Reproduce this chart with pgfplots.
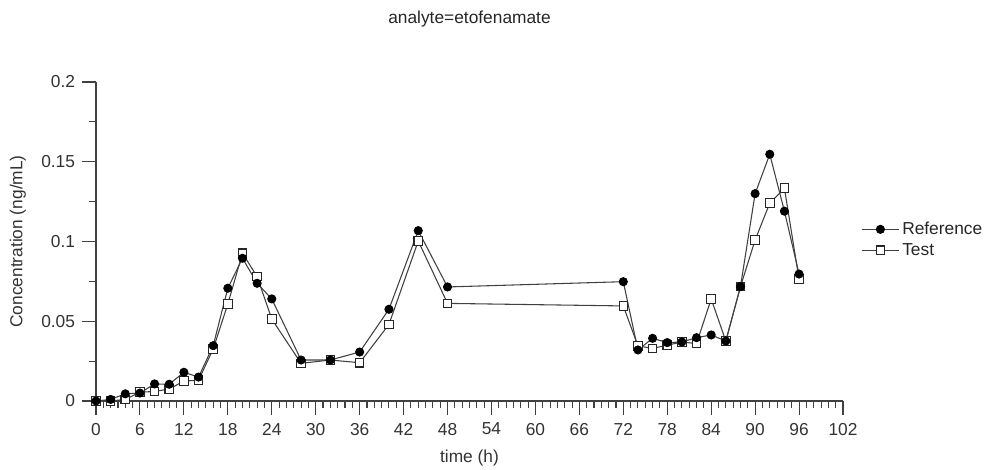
\documentclass[border=0pt]{standalone}
\usepackage{fontspec}
\setmainfont{Liberation Sans}
\usepackage{pgfplots}
\usepackage{pgfplotstable}
\pgfplotsset{compat=1.18}

% time (h), concentration (ng/mL)
\pgfplotstableread{
t     c
0     0.0000
2     0.0010
4     0.0045
6     0.0050
8     0.0107
10    0.0105
12    0.0180
14    0.0150
16    0.0347
18    0.0707
20    0.0895
22    0.0738
24    0.0640
28    0.0257
32    0.0257
36    0.0307
40    0.0575
44    0.1068
48    0.0715
72    0.0748
74    0.0320
76    0.0393
78    0.0366
80    0.0370
82    0.0397
84    0.0414
86    0.0376
88    0.0717
90    0.1300
92    0.1547
94    0.1190
96    0.0796
}\refdata

\pgfplotstableread{
t     c
0     0.0000
2     0.0000
4     0.0010
6     0.0055
8     0.0060
10    0.0075
12    0.0125
14    0.0130
16    0.0326
18    0.0608
20    0.0926
22    0.0780
24    0.0514
28    0.0236
32    0.0257
36    0.0240
40    0.0480
44    0.1003
48    0.0612
72    0.0596
74    0.0345
76    0.0330
78    0.0350
80    0.0370
82    0.0360
84    0.0640
86    0.0376
88    0.0717
90    0.1010
92    0.1240
94    0.1334
96    0.0763
}\testdata

\begin{document}
\begin{tikzpicture}[font=\fontsize{13}{15.6}\selectfont]
\path[use as bounding box] (-72pt,-51.75pt) rectangle (669pt,300.75pt);
\begin{axis}[
  at={(0,0)}, anchor=south west,
  scale only axis,
  width=560.25pt, height=239.25pt,
  xmin=0, xmax=102,
  ymin=0, ymax=0.2,
  axis x line*=bottom,
  axis y line*=left,
  axis line style={black!75, line width=0.8pt},
  tick style={black!75, line width=0.8pt},
  tick align=outside,
  major tick length=10.5pt,
  minor tick length=5.25pt,
  xtick={0,6,...,102},
  minor x tick num=5,
  ytick={0,0.05,0.1,0.15,0.2},
  yticklabels={0,0.05,0.1,0.15,0.2},
  minor y tick num=1,
  /pgf/number format/assume math mode=true,
  ticklabel style={text=black!80},
  xticklabel style={yshift=-2.5pt},
  yticklabel style={xshift=-1.7pt},
  title={analyte=etofenamate},
  title style={at={(axis description cs:0.5,1)}, anchor=center, yshift=41.5pt, text=black!85},
  xlabel={time (h)},
  ylabel={Concentration (ng/mL)},
  every axis x label/.style={at={(axis description cs:0.5,-0.179)}, anchor=center, text=black!80},
  every axis y label/.style={at={(axis description cs:-0.1044,0.5)}, rotate=90, anchor=center, text=black!80},
  legend style={at={(axis description cs:1.024,0.57)}, anchor=north west,
    draw=none, fill=none, inner sep=0pt, row sep=1pt,
    nodes={text=black!85}},
  legend cell align=left,
  reverse legend,
  legend image code/.code={
    \draw[mark repeat=2,mark phase=2,#1] plot coordinates {(0pt,0pt) (14pt,0pt) (28pt,0pt)};
  },
]
\addplot[black!75, line width=0.8pt, mark=square*, mark size=3.2pt,
  mark options={fill=white, draw=black!85, line width=0.8pt}]
  table[x=t, y=c] {\testdata};
\addlegendentry{Test}
\addplot[black!75, line width=0.8pt, mark=*, mark size=3pt,
  mark options={fill=black, draw=black}]
  table[x=t, y=c] {\refdata};
\addlegendentry{Reference}
\end{axis}
\end{tikzpicture}
\end{document}
